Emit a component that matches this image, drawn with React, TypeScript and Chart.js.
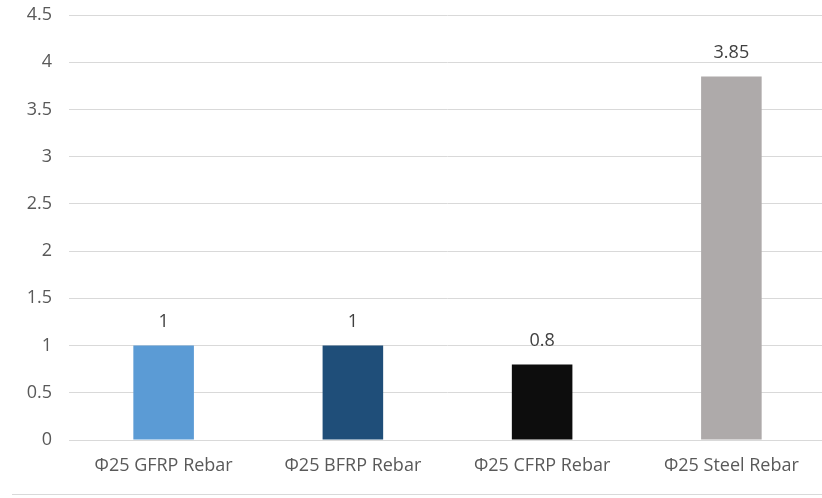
import React, { useEffect, useRef } from "react";
import { Chart, registerables } from "chart.js";

Chart.register(...registerables);

const categories = ["Φ25 GFRP Rebar", "Φ25 BFRP Rebar", "Φ25 CFRP Rebar", "Φ25 Steel Rebar"];
const values = [1, 1, 0.8, 3.85];
const valueLabels = ["1", "1", "0.8", "3.85"];
const barColors = ["#5b9bd5", "#1f4e79", "#0d0d0d", "#aeaaaa"];

const FONT = "'Open Sans', 'Noto Sans', sans-serif";

const dataLabelPlugin = {
  id: "dataLabels",
  afterDatasetsDraw(chart: any) {
    const ctx = chart.ctx;
    const meta = chart.getDatasetMeta(0);
    ctx.save();
    ctx.font = `18px ${FONT}`;
    ctx.fillStyle = "#404040";
    ctx.textAlign = "center";
    ctx.textBaseline = "middle";
    meta.data.forEach((bar: any, i: number) => {
      ctx.fillText(valueLabels[i], bar.x, bar.y - 24);
    });
    ctx.restore();
  },
};

export default function App() {
  const ref = useRef<HTMLCanvasElement>(null);
  useEffect(() => {
    if (!ref.current) return;
    const chart = new Chart(ref.current, {
      type: "bar",
      data: {
        labels: categories,
        datasets: [
          {
            data: values,
            backgroundColor: barColors,
            borderWidth: 0,
            barPercentage: 0.64,
            categoryPercentage: 0.5,
          },
        ],
      },
      options: {
        animation: false,
        responsive: false,
        maintainAspectRatio: false,
        layout: { padding: { top: 15, right: 0, bottom: 0, left: 0 } },
        plugins: {
          legend: { display: false },
          tooltip: { enabled: false },
        },
        scales: {
          x: {
            grid: { display: false, drawTicks: false },
            border: { display: true, color: "#d9d9d9", width: 1 },
            ticks: {
              color: "#595959",
              font: { family: FONT, size: 18 },
              padding: 15,
              maxRotation: 0,
              autoSkip: false,
            },
            afterFit(scale: any) {
              scale.height = 58;
              scale.paddingLeft = 0;
              scale.paddingRight = 0;
            },
          },
          y: {
            min: 0,
            max: 4.5,
            grid: { color: "#d9d9d9", drawTicks: false, lineWidth: 1 },
            border: { display: false },
            ticks: {
              stepSize: 0.5,
              color: "#595959",
              font: { family: FONT, size: 18 },
              padding: 17,
              callback: (v: any) => String(v),
            },
            afterFit(scale: any) {
              scale.width = 69;
              scale.paddingTop = 0;
              scale.paddingBottom = 0;
            },
          },
        },
      },
      plugins: [dataLabelPlugin],
    });
    return () => chart.destroy();
  }, []);
  return (
    <div
      style={{
        position: "absolute",
        left: 0,
        top: 0,
        width: 822,
        height: 498,
        overflow: "hidden",
        background: "#fff",
      }}
    >
      <canvas ref={ref} width={826} height={498} style={{ display: "block" }} />
      <div
        style={{
          position: "absolute",
          left: 12,
          top: 494,
          width: 810,
          height: 1,
          background: "#d9d9d9",
        }}
      />
    </div>
  );
}
